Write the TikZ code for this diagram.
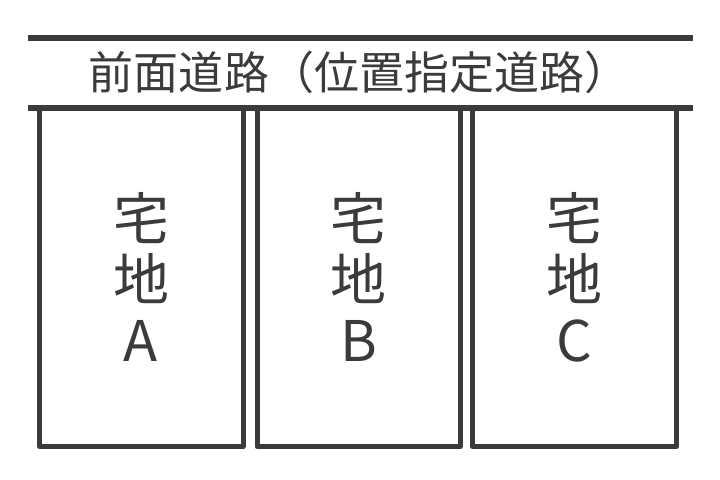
\documentclass[tikz,border=0pt]{standalone}
\usepackage{fontspec}
\newfontfamily\cjk{Noto Sans CJK JP}
\definecolor{ink}{HTML}{3C3A3A}
\tikzset{
	lot/.style={draw=ink, line width=5bp, line join=round},
	road/.style={draw=ink, line width=5.5bp},
	lotlabel/.style={text=ink, align=center, inner sep=0pt, font=\cjk\fontsize{56bp}{61bp}\selectfont}
}

\begin{document}
\begin{tikzpicture}[x=1bp, y=-1bp]
			%%%%% START %%%%%
			\useasboundingbox (0, 0) rectangle (720, 480);
			
			\draw[road] (28, 38) -- (693, 38);
			\node[text=ink, inner sep=0pt, font=\cjk\fontsize{45bp}{50bp}\selectfont] (roadname) at (359, 72) {前面道路（位置指定道路）};
			\draw[road] (28, 108) -- (693, 108);
			
			\draw[lot] (39.5, 110) -- (39.5, 446.5) -- (243, 446.5) -- (243, 110);
			\node[lotlabel] (lotA) at (141, 277) {宅\\地\\A};
			
			\draw[lot] (257, 110) -- (257, 446.5) -- (460, 446.5) -- (460, 110);
			\node[lotlabel] (lotB) at (358.5, 277) {宅\\地\\B};
			
			\draw[lot] (472.5, 110) -- (472.5, 446.5) -- (676.5, 446.5) -- (676.5, 110);
			\node[lotlabel] (lotC) at (574.5, 277) {宅\\地\\C};
			%%%%% END %%%%%
\end{tikzpicture}
\end{document}
